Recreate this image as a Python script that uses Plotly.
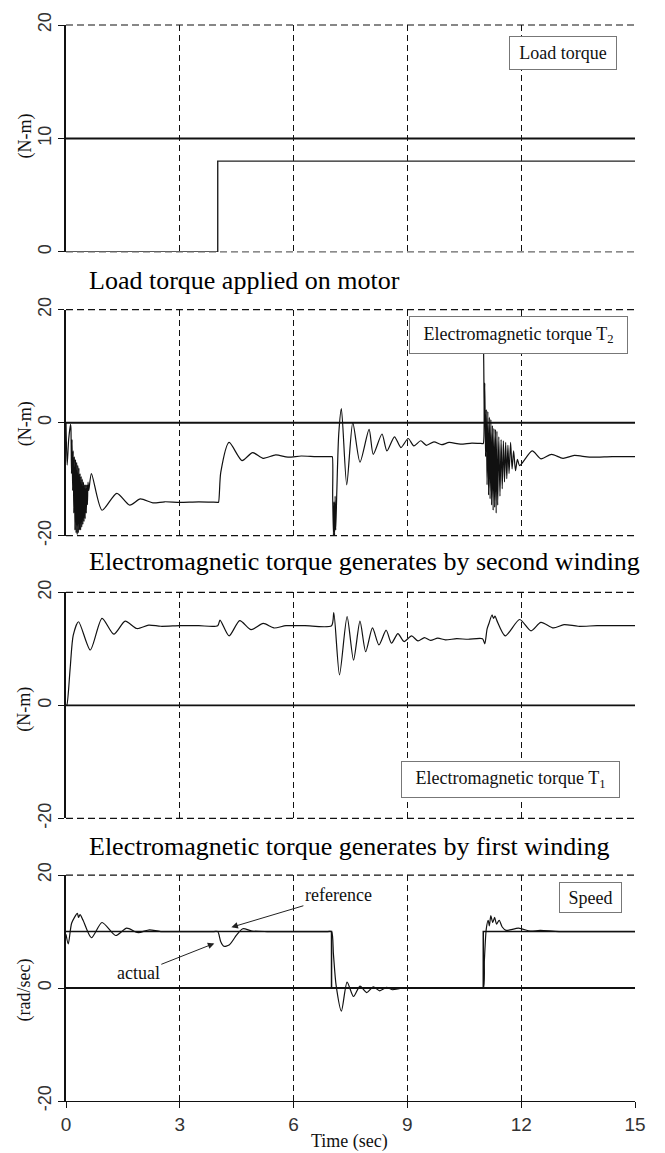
import plotly.graph_objects as go

# ---------------- data ----------------
x_ticks = [0, 3, 6, 9, 12, 15]

load_time = [0, 4, 15]
load_torque = [0, 8, 8]

t2_time = [0.00, 0.03, 0.07, 0.12, 0.13, 0.145, 0.16, 0.175, 0.19, 0.205, 0.22, 0.235, 0.25, 0.265,
           0.28, 0.295, 0.31, 0.325, 0.34, 0.355, 0.37, 0.385, 0.40, 0.415, 0.43, 0.445, 0.46, 0.475,
           0.49, 0.505, 0.52, 0.535, 0.55, 0.565, 0.58, 0.60, 0.67, 0.95, 1.34, 1.68,
           1.96, 2.29, 2.6, 3.0, 3.5, 4.0, 4.02, 4.08, 4.30, 4.64, 4.92,
           5.20, 5.53, 5.85, 6.2, 6.6, 7.0, 7.02, 7.03, 7.05, 7.065, 7.08, 7.095, 7.11, 7.14,
           7.19, 7.26, 7.40, 7.56, 7.75, 7.99, 8.10, 8.33, 8.46,
           8.66, 8.83, 9.02, 9.17, 9.35, 9.5, 9.7, 9.9, 10.1, 10.4, 10.7, 10.98, 11.0, 11.01, 11.025,
           11.04, 11.06, 11.08, 11.10, 11.12, 11.14, 11.16, 11.18, 11.20, 11.22, 11.24, 11.26, 11.28,
           11.30, 11.32, 11.34, 11.36, 11.38, 11.41, 11.44, 11.47, 11.50, 11.53, 11.56, 11.59, 11.62,
           11.65, 11.68, 11.72, 11.76, 11.80, 11.85, 11.90, 11.96, 12.29, 12.52, 12.8, 13.1,
           13.4, 13.8, 14.4, 15.0]
t2_vals = [0.0, -7.5, -3.0, -0.3, -1, -9, -3, -12, -5, -16, -6, -19, -6.5, -19.5,
           -7, -19.8, -7.5, -19.5, -8, -19, -9, -19, -9.5, -18.5, -10, -18, -10.5, -17.5,
           -11, -17, -11, -16, -11, -14.5, -10.5, -12, -9, -15.5, -12.5, -14.6,
           -13.5, -14.2, -14.0, -14.1, -14.0, -14.1, -14.1, -8.8, -3.5, -6.7, -5.3,
           -6.3, -5.7, -6.1, -5.9, -6.0, -6.0, -6.0, -13, -20, -14, -20, -13, -19, -12,
           -2, 2.5, -11, 0, -7, -1.2, -5.6, -2, -5,
           -2.5, -4.4, -2.8, -4.1, -3.2, -4.0, -3.4, -3.9, -3.5, -3.8, -3.6, -3.7, -3.7, 12.3, 1.0,
           7.0, -6, 2.3, -11, 2.0, -12.8, 1.0, -13.5, 0.6, -14.6, -0.5, -15.5, -1,
           -15, -1.2, -16, -1.5, -14.6, -2.5, -13, -3, -11.7, -3.2, -10.5, -3.5, -9.9,
           -4, -9, -3.5, -8.2, -5, -8.5, -6.5, -7.6, -5.0, -6.4, -5.6, -6.3,
           -5.8, -6.1, -6.0, -6.0]

t1_time = [0.0, 0.02, 0.11, 0.19, 0.33, 0.64, 0.95, 1.26, 1.56, 1.87, 2.18, 2.5, 3.0,
           3.5, 4.0, 4.06, 4.30, 4.58, 4.88, 5.2, 5.48, 5.8, 6.3, 7.0, 7.06, 7.21, 7.41, 7.58, 7.75,
           7.90, 8.08, 8.25, 8.44, 8.58, 8.75, 8.91, 9.11, 9.28, 9.45, 9.61, 9.8, 10.0, 10.3, 10.6,
           10.98, 11.04, 11.10, 11.15, 11.23, 11.27, 11.31, 11.36, 11.58, 11.96, 12.26, 12.52, 12.85,
           13.13, 13.5, 14.0, 15.0]
t1_vals = [0.0, 0.0, 6.6, 12.4, 14.8, 9.8, 15.4, 12.6, 14.9, 13.6, 14.2, 14.0, 14.1,
           14.1, 14.1, 15.1, 12.3, 15.0, 13.4, 14.5, 13.7, 14.1, 14.1, 14.1, 16.4, 5.4, 15.7, 8.0, 14.9,
           9.5, 13.7, 10.7, 13.3, 11.0, 12.7, 11.3, 12.3, 11.4, 12.0, 11.5, 11.9, 11.6, 11.8, 11.7,
           11.8, 10.9, 13.5, 14.5, 16.0, 15.4, 15.8, 15.0, 12.3, 15.2, 13.2, 14.7, 13.7,
           14.3, 14.0, 14.1, 14.1]

speed_ref_time = [0, 7, 11, 15]
speed_ref = [10, 0, 10, 10]

speed_time = [0.0, 0.06, 0.15, 0.30, 0.33, 0.37, 0.45, 0.67, 0.95, 1.31, 1.6, 1.9, 2.2, 2.5, 3.9,
              4.0, 4.08, 4.16, 4.30, 4.50, 4.66, 4.9, 5.3, 6.9, 7.0, 7.05, 7.12, 7.26, 7.41, 7.58, 7.75,
              7.93, 8.1, 8.27, 8.45, 8.6, 8.9, 10.9, 11.0, 11.03, 11.08, 11.13, 11.16, 11.2, 11.25, 11.3,
              11.35, 11.42, 11.5, 11.6, 11.93, 12.24, 12.5, 13.0, 15.0]
speed_vals = [9.5, 7.8, 11.5, 13.2, 12.5, 13.0, 12.0, 8.9, 11.6, 9.3, 10.6, 9.8, 10.3, 10.0, 10.0,
              10.0, 8.2, 7.4, 7.6, 9.4, 10.5, 10.1, 10.0, 10.0, 10.0, 6.0, 0.5, -4.1, 1.06, -1.5, 0.35,
              -0.8, 0.2, -0.5, 0.1, -0.3, 0.0, 0.0, 0.0, 5.0, 10.5, 12.0, 11.0, 12.8, 11.6, 12.5,
              11.3, 12.0, 10.8, 10.2, 10.6, 10.06, 10.2, 10.0, 10.0]

# ---------------- figure ----------------
W, H = 665, 1153
ML, MT = 66, 20
MR = W - 635
MB = H - 1101
PW, PH = W - ML - MR, H - MT - MB


def px_x(x):  # page pixel -> paper
    return (x - ML) / PW


def px_y(y):
    return (H - MB - y) / PH


SERIF = "Liberation Serif, Times New Roman, serif"
SANS = "Liberation Sans Narrow, Arial Narrow, Liberation Sans, Arial, sans-serif"

domains = [[0.7891, 1.0], [0.5254, 0.7354], [0.2627, 0.4727], [0.0, 0.2100]]
yranges = [[0, 20], [-20, 20], [-20, 20], [-20, 20]]
yticks = [[0, 10, 20], [-20, 0, 20], [-20, 0, 20], [-20, 0, 20]]

fig = go.Figure()

line_style = dict(color="#111111", width=1.2, shape="spline", smoothing=0.7)
fig.add_trace(go.Scatter(x=load_time, y=load_torque, mode="lines",
                         line=dict(color="#222222", width=1.4, shape="hv"), xaxis="x", yaxis="y",
                         showlegend=False))
fig.add_trace(go.Scatter(x=t2_time, y=t2_vals, mode="lines", line=line_style,
                         xaxis="x2", yaxis="y2", showlegend=False))
fig.add_trace(go.Scatter(x=t1_time, y=t1_vals, mode="lines", line=line_style,
                         xaxis="x3", yaxis="y3", showlegend=False))
fig.add_trace(go.Scatter(x=speed_ref_time, y=speed_ref, mode="lines",
                         line=dict(color="#111111", width=1.5, shape="hv"), xaxis="x4", yaxis="y4",
                         showlegend=False))
fig.add_trace(go.Scatter(x=speed_time, y=speed_vals, mode="lines", line=line_style,
                         xaxis="x4", yaxis="y4", showlegend=False))

layout = dict(
    width=W, height=H,
    margin=dict(l=ML, r=MR, t=MT, b=MB, pad=0),
    paper_bgcolor="white", plot_bgcolor="white",
    showlegend=False,
)

shapes = []
for i in range(4):
    n = "" if i == 0 else str(i + 1)
    last = (i == 3)
    layout["xaxis" + n] = dict(
        domain=[0, 1], anchor="y" + n, range=[0, 15],
        tickmode="array", tickvals=x_ticks, ticktext=[str(v) for v in x_ticks],
        showgrid=True, gridcolor="#111111", gridwidth=1, griddash="6px,4px",
        zeroline=False,
        showline=last, linecolor="#111111", linewidth=1.3,
        ticks="outside" if last else "", ticklen=6, tickcolor="#111111",
        showticklabels=last,
        tickfont=dict(family=SANS, size=19, color="#333333"),
    )
    layout["yaxis" + n] = dict(
        domain=domains[i], anchor="x" + n, range=yranges[i],
        tickmode="array", tickvals=yticks[i], ticktext=[str(v) for v in yticks[i]],
        showgrid=False, zeroline=False,
        showline=True, linecolor="#111111", linewidth=1.5,
        ticks="outside", ticklen=6, tickcolor="#111111",
        tickangle=-90,
        tickfont=dict(family=SANS, size=18, color="#333333"),
    )
    xr, yr = "x" + n + " domain", "y" + n + " domain"
    shapes.append(dict(type="line", xref=xr, yref=yr, x0=0, x1=1, y0=1, y1=1,
                       line=dict(color="#111111", width=1.2, dash="7px,4px")))
    if not last:
        shapes.append(dict(type="line", xref=xr, yref=yr, x0=0, x1=1, y0=0, y1=0,
                           line=dict(color="#666666" if i == 0 else "#111111", width=1.2,
                                     dash="7px,4px")))
    shapes.append(dict(type="line", xref=xr, yref=yr, x0=0, x1=1, y0=0.5, y1=0.5,
                       layer="below",
                       line=dict(color="#111111", width=2 if i != 2 else 1.6)))
layout["shapes"] = shapes

ann = []
captions = [("Load torque applied on motor", 277),
            ("Electromagnetic torque generates by second winding", 559),
            ("Electromagnetic torque generates by first winding", 845)]
for txt, yc in captions:
    ann.append(dict(text=txt, xref="paper", yref="paper", x=px_x(87), y=px_y(yc),
                    xanchor="left", yanchor="middle", showarrow=False,
                    font=dict(family=SERIF, size=26, color="#000000")))

ytitles = [("(N-m)", 132), ("(N-m)", 421), ("(N-m)", 708), ("(rad/sec)", 990)]
for txt, yc in ytitles:
    ann.append(dict(text=txt, xref="paper", yref="paper", x=px_x(25), y=px_y(yc),
                    xanchor="center", yanchor="middle", showarrow=False, textangle=-90,
                    font=dict(family=SERIF, size=18, color="#111111")))

ann.append(dict(text="Time (sec)", xref="paper", yref="paper", x=px_x(349), y=px_y(1142),
                xanchor="center", yanchor="middle", showarrow=False,
                font=dict(family=SERIF, size=18, color="#111111")))

boxes = [("Load torque", 563, 48, 106, 32),
         ("Electromagnetic torque T<sub>2</sub>", 518, 331, 217, 36),
         ("Electromagnetic torque T<sub>1</sub>", 510, 778, 217, 35),
         ("Speed", 590, 897, 61, 29)]
for txt, xc, yc, bw, bh in boxes:
    ann.append(dict(text=txt, xref="paper", yref="paper", x=px_x(xc), y=px_y(yc),
                    xanchor="center", yanchor="middle", showarrow=False,
                    width=bw, height=bh, borderpad=0, align="center", valign="middle",
                    bgcolor="white", bordercolor="#777777", borderwidth=1,
                    font=dict(family=SERIF, size=18, color="#111111")))

ann.append(dict(text="reference", xref="x4", yref="y4", x=4.36, y=10.75,
                ax=107, ay=-32, axref="pixel", ayref="pixel", showarrow=True,
                arrowhead=2, arrowsize=1.3, arrowwidth=1, arrowcolor="#222222",
                font=dict(family=SERIF, size=18, color="#111111")))
ann.append(dict(text="actual", xref="x4", yref="y4", x=3.91, y=7.9,
                ax=-76, ay=30, axref="pixel", ayref="pixel", showarrow=True,
                arrowhead=2, arrowsize=1.3, arrowwidth=1, arrowcolor="#222222",
                font=dict(family=SERIF, size=18, color="#111111")))

layout["annotations"] = ann
fig.update_layout(**layout)

fig.write_html(
    "out.html",
    config={"displayModeBar": False},
    post_script="document.body.style.margin='0px';document.body.style.overflow='hidden';"
                "document.documentElement.style.overflow='hidden';",
)
